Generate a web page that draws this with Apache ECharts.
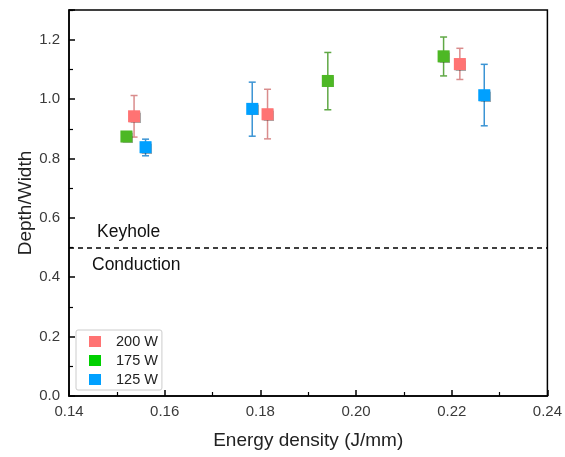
<!DOCTYPE html>
<html><head><meta charset="utf-8">
<script src="https://cdn.jsdelivr.net/npm/echarts@6/dist/echarts.min.js"></script>
<style>html,body{margin:0;padding:0;background:#fff}#c{width:565px;height:457px}</style>
</head><body><div id="c"></div>
<script>
// data: [energy density, depth/width, lower, upper]
const seriesNames = ['200 W', '175 W', '125 W'];
const s200 = [[0.1536, 0.942, 0.872, 1.012], [0.1815, 0.949, 0.866, 1.033], [0.2217, 1.118, 1.066, 1.171]];
const s175 = [[0.1520, 0.874, 0.868, 0.880], [0.1941, 1.061, 0.964, 1.157], [0.2183, 1.144, 1.078, 1.209]];
const s125 = [[0.1560, 0.838, 0.809, 0.865], [0.1783, 0.967, 0.875, 1.057], [0.2268, 1.013, 0.910, 1.117]];
const xTicks = [0.14, 0.16, 0.18, 0.20, 0.22, 0.24];
const yTicks = [0.0, 0.2, 0.4, 0.6, 0.8, 1.0, 1.2];
const threshold = 0.5;

const markerColors = ['#FF7373', '#4DB824', '#00A0FF'];
const legendColors = ['#FF7373', '#00D000', '#00A0FF'];
const barColors = ['#D98C8C', '#5FA845', '#3B94D4'];
const groups = [s200, s175, s125];

function errSeries(data, color) {
  return {
    type: 'custom', silent: true, z: 2,
    data: data.map(d => [d[0], d[2], d[3]]),
    renderItem: function (params, api) {
      const lo = api.coord([api.value(0), api.value(1)]);
      const hi = api.coord([api.value(0), api.value(2)]);
      const cw = 3.5;
      const st = { stroke: color, lineWidth: 1.5 };
      return { type: 'group', children: [
        { type: 'line', shape: { x1: lo[0], y1: lo[1], x2: hi[0], y2: hi[1] }, style: st },
        { type: 'line', shape: { x1: lo[0] - cw, y1: lo[1], x2: lo[0] + cw, y2: lo[1] }, style: st },
        { type: 'line', shape: { x1: hi[0] - cw, y1: hi[1], x2: hi[0] + cw, y2: hi[1] }, style: st }
      ]};
    }
  };
}

const series = [];
groups.forEach((g, i) => series.push(errSeries(g, barColors[i])));
groups.forEach((g, i) => series.push({
  name: seriesNames[i], type: 'scatter', symbol: 'rect', symbolSize: 12, z: 3,
  data: g.map(d => [d[0], d[1]]),
  itemStyle: { color: markerColors[i], opacity: 1, shadowColor: 'rgba(0,0,0,0.35)', shadowBlur: 1, shadowOffsetX: 0.5, shadowOffsetY: 0.5 }
}));
series.push({
  type: 'line', silent: true, data: [], z: 1,
  markLine: { silent: true, symbol: 'none', label: { show: false },
    lineStyle: { color: '#000', type: [5, 4], width: 1.5 },
    data: [{ yAxis: threshold }] }
});

const chart = echarts.init(document.getElementById('c'), null, { renderer: 'canvas' });
const font = 'Arial, "Liberation Sans", sans-serif';
chart.setOption({
  animation: false,
  textStyle: { fontFamily: font },
  grid: { left: 69, right: 14, top: 10, bottom: 61, show: true, borderColor: '#000', borderWidth: 1.5, backgroundColor: 'transparent' },
  legend: {
    data: seriesNames.map((n, i) => ({ name: n, itemStyle: { color: legendColors[i], shadowBlur: 0, shadowOffsetX: 0, shadowOffsetY: 0 } })),
    orient: 'vertical', left: 76, top: 330,
    itemWidth: 12, itemHeight: 11, itemGap: 4, icon: 'rect',
    padding: [4, 4, 3, 13], borderColor: '#ccc', borderWidth: 1, borderRadius: 2,
    backgroundColor: '#fff',
    textStyle: { fontSize: 14.5, color: '#222', fontFamily: font, padding: [0, 0, 0, 10] }
  },
  xAxis: {
    type: 'value', min: xTicks[0], max: xTicks[xTicks.length - 1], interval: 0.02,
    name: 'Energy density (J/mm)', nameLocation: 'middle', nameGap: 35,
    nameTextStyle: { fontSize: 19, color: '#222', fontFamily: font },
    axisLine: { show: true, onZero: false, lineStyle: { color: '#000', width: 1.5 } },
    axisTick: { show: true, inside: true, length: 6, lineStyle: { color: '#000', width: 1.5 } },
    minorTick: { show: true, splitNumber: 2, length: 4, lineStyle: { color: '#000', width: 1.2 } },
    axisLabel: { fontSize: 15, color: '#3a3a3a', margin: 8, formatter: v => v.toFixed(2) },
    splitLine: { show: false }
  },
  yAxis: {
    type: 'value', min: 0, max: 1.3, interval: 0.2,
    name: 'Depth/Width', nameLocation: 'middle', nameGap: 34, nameMoveOverlap: false,
    nameTextStyle: { fontSize: 19, color: '#222', fontFamily: font },
    axisLine: { show: true, onZero: false, lineStyle: { color: '#000', width: 1.5 } },
    axisTick: { show: true, inside: true, length: 6, lineStyle: { color: '#000', width: 1.5 } },
    minorTick: { show: true, splitNumber: 2, length: 4, lineStyle: { color: '#000', width: 1.2 } },
    axisLabel: { fontSize: 15, color: '#3a3a3a', margin: 9, showMaxLabel: false, formatter: v => v.toFixed(1) },
    splitLine: { show: false }
  },
  graphic: [
    { type: 'text', left: 97, top: 223, style: { text: 'Keyhole', fontSize: 17.5, fill: '#111', fontFamily: font } },
    { type: 'text', left: 92, top: 256, style: { text: 'Conduction', fontSize: 17.5, fill: '#111', fontFamily: font } }
  ],
  series: series
});
</script></body></html>
